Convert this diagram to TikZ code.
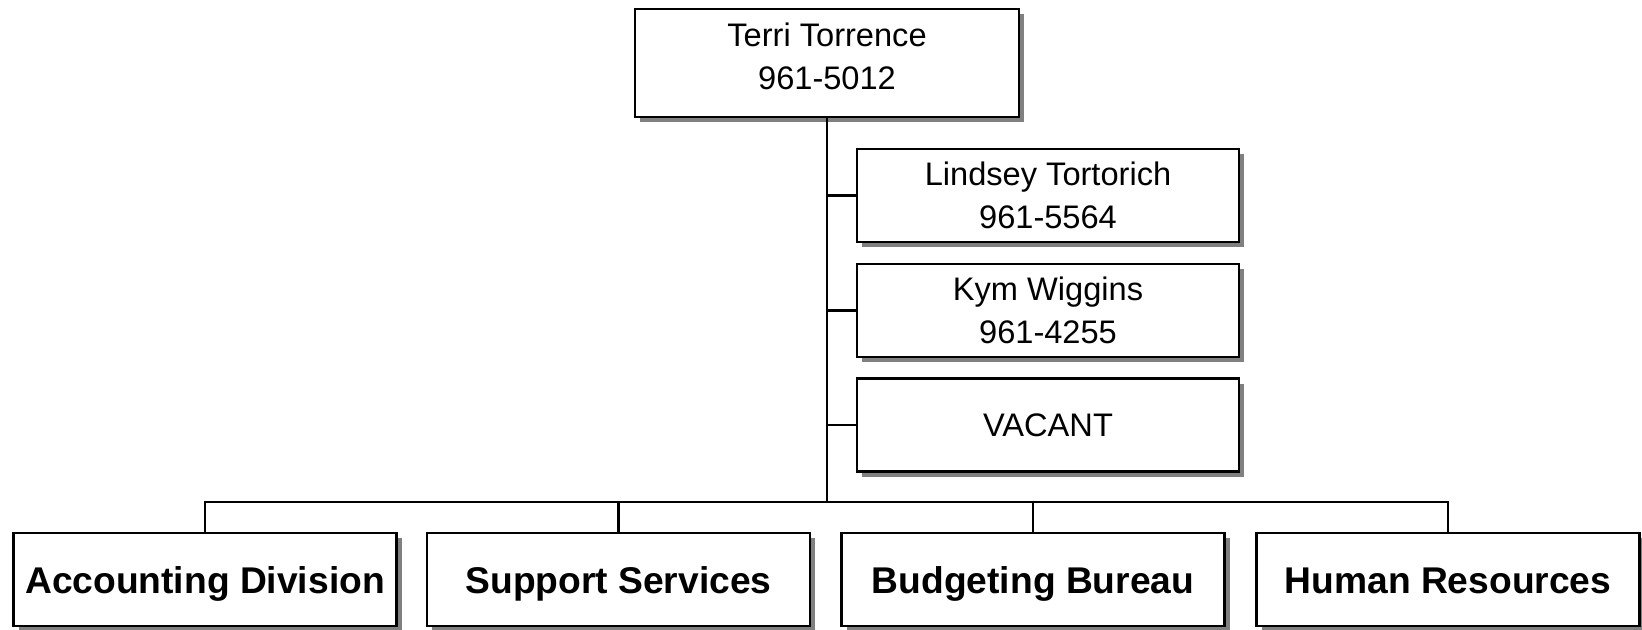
\documentclass[tikz,border=0pt]{standalone}
\usepackage{fontspec}
\setmainfont{Liberation Sans}
\usetikzlibrary{shadows}
\definecolor{shadowgray}{RGB}{128,128,128}

\tikzset{
  person/.style={draw, line width=1.3pt, fill=white, minimum width=191pt, minimum height=46.5pt,
    align=center, inner sep=0pt, font=\fontsize{16.3}{21.5}\selectfont,
    drop shadow={shadow xshift=2.5pt, shadow yshift=-2.5pt, fill=shadowgray, opacity=1}},
  unit/.style={person, minimum width=191.5pt, text height=13.5pt, text depth=0pt,
    font=\fontsize{18.6}{22}\selectfont\bfseries},
  link/.style={line width=1.25pt}
}

\begin{document}
\begin{tikzpicture}[x=0.5pt, y=-0.5pt]
  \useasboundingbox (0,0) rectangle (1642,630);

  % Head and staff
  \node[person, minimum width=192pt, minimum height=54pt, text depth=7pt] (head) at (827,63) {Terri Torrence\\961-5012};
  \node[person] (lindsey) at (1048,195.5) {Lindsey Tortorich\\961-5564};
  \node[person] (kym) at (1048,310.5) {Kym Wiggins\\961-4255};
  \node[person] (vacant) at (1048,425) {VACANT};

  % Divisions
  \node[unit] (acct) at (205,579.5) {Accounting Division};
  \node[unit] (supp) at (618.5,579.5) {Support Services};
  \node[unit] (budg) at (1033,579.5) {Budgeting Bureau};
  \node[unit] (hr) at (1448,579.5) {Human Resources};

  % Connectors
  \coordinate (bus) at (827,502);
  \draw[link] (head.south) -- (bus);
  \foreach \n in {lindsey, kym, vacant}
    \draw[link] (\n.west) -- (\n.west -| bus);
  \draw[link] (acct.north) |- (bus) -| (hr.north);
  \draw[link] (supp.north) -- (supp.north |- bus);
  \draw[link] (budg.north) -- (budg.north |- bus);
\end{tikzpicture}
\end{document}
